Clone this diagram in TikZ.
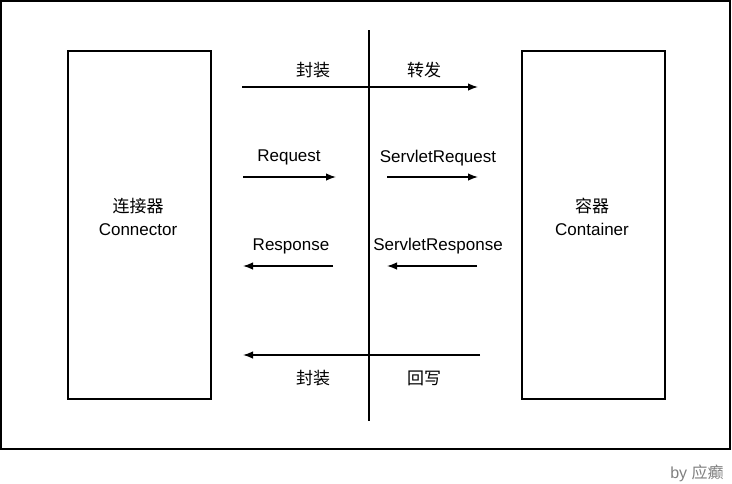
\documentclass[tikz,border=0pt]{standalone}
\usepackage{fontspec}
\setmainfont{Liberation Sans}
\newfontfamily\cjk{Noto Sans CJK SC}
\usepackage{tikz}
\usetikzlibrary{arrows.meta}

\tikzset{
    box/.style={draw,line width=1.5pt,minimum width=143pt,minimum height=348pt,
        anchor=north west,inner sep=0pt},
    flow/.style={line width=1.4pt,-{Latex[length=10pt,width=7.5pt]}},
    lbl/.style={font=\fontsize{17}{20}\selectfont,inner sep=0pt}
}

\begin{document}
\begin{tikzpicture}[x=1pt,y=-1pt]
        \useasboundingbox (0,0) rectangle (732,483);

        % Outer frame
        \draw [line width=2pt] (1,1) rectangle (730,449);

        % Boxes
        \node [box] (conn) at (67,50) {};
        \node [box] (cont) at (521,50) {};
        \node [lbl,align=center] (conntext) at (138,217)
            {{\cjk 连接器}\\[3pt]Connector};
        \node [lbl,align=center] (conttext) at (592,217)
            {{\cjk 容器}\\[3pt]Container};

        % Divider
        \coordinate (divtop) at (369,30);
        \coordinate (divbot) at (369,421);
        \draw [line width=1.5pt] (divtop) -- (divbot);

        % Arrow ends
        \coordinate (wrapA) at (242,87);
        \coordinate (wrapB) at (478,87);
        \coordinate (reqA) at (243,177);
        \coordinate (reqB) at (336,177);
        \coordinate (sreqA) at (387,177);
        \coordinate (sreqB) at (478,177);
        \coordinate (respA) at (333,266);
        \coordinate (respB) at (243,266);
        \coordinate (srespA) at (477,266);
        \coordinate (srespB) at (387,266);
        \coordinate (backA) at (480,355);
        \coordinate (backB) at (243,355);

        % Arrows
        \draw [flow] (wrapA) -- (wrapB);
        \draw [flow] (reqA) -- (reqB);
        \draw [flow] (sreqA) -- (sreqB);
        \draw [flow] (respA) -- (respB);
        \draw [flow] (srespA) -- (srespB);
        \draw [flow] (backA) -- (backB);

        % Labels
        \node [lbl] (wraptop) at (313,70) {\cjk 封装};
        \node [lbl] (forward) at (424,70) {\cjk 转发};
        \node [lbl] (req) at (289,157) {Request};
        \node [lbl] (sreq) at (438,158) {ServletRequest};
        \node [lbl] (resp) at (291,246) {Response};
        \node [lbl] (sresp) at (438,246) {ServletResponse};
        \node [lbl] (wrapbot) at (313,378) {\cjk 封装};
        \node [lbl] (writeback) at (424,378) {\cjk 回写};

        % Watermark
        \node [lbl,text=gray,font=\fontsize{16}{19}\selectfont] (by) at (697,473)
            {by {\cjk 应癫}};
\end{tikzpicture}
\end{document}
